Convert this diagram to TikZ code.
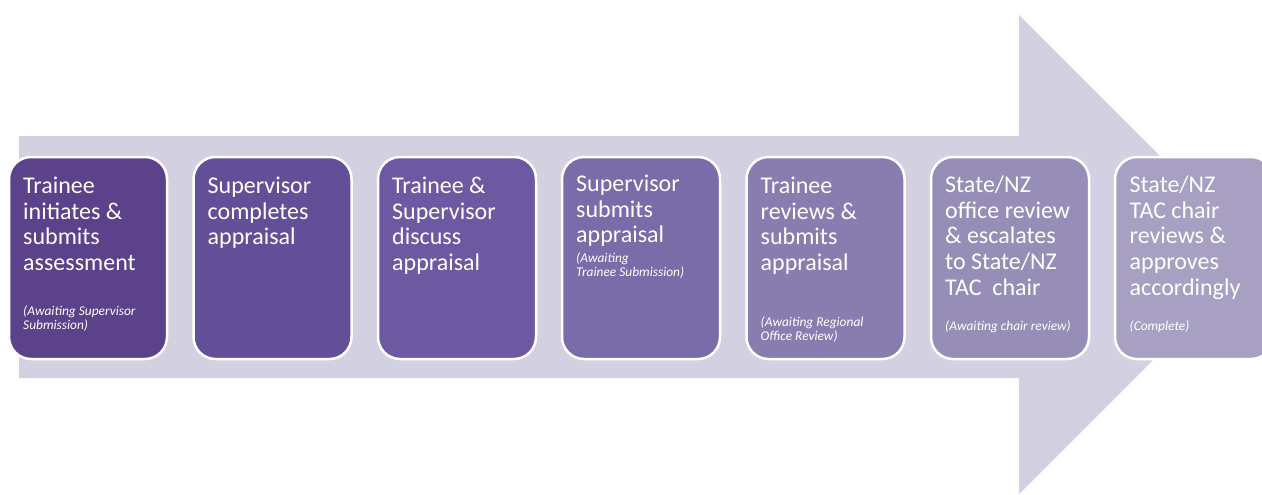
\documentclass[tikz,border=0pt]{standalone}
\usepackage{fontspec}
\setmainfont{Carlito}
\definecolor{arrowfill}{RGB}{210,208,225}
\definecolor{stepA}{RGB}{91,66,138}
\definecolor{stepB}{RGB}{99,79,151}
\definecolor{stepC}{RGB}{108,89,162}
\definecolor{stepD}{RGB}{122,107,169}
\definecolor{stepE}{RGB}{137,125,176}
\definecolor{stepF}{RGB}{151,142,183}
\definecolor{stepG}{RGB}{167,160,194}
\tikzset{
  stepbox/.style={draw=white, line width=2.5pt, rounded corners=22pt,
    minimum width=158pt, minimum height=202pt, inner sep=0pt},
  steptext/.style={anchor=north west, inner sep=0pt, align=left, text=white,
    font={\fontsize{24}{25.8}\selectfont}},
  statustext/.style={anchor=north west, inner sep=0pt, align=left, text=white,
    font={\fontsize{13.4}{13.8}\selectfont\itshape}},
}
\newcommand{\firstline}{\rule{0pt}{20pt}}
\newcommand{\firstsmall}{\rule{0pt}{11pt}}
\begin{document}
\begin{tikzpicture}[x=1pt,y=-1pt]
  \useasboundingbox (0,0) rectangle (1262,495);
  \clip (0,0) rectangle (1262,495);
  % the big background arrow
  \fill[arrowfill] (19,136) -- (1019,136) -- (1019,15) -- (1258.5,254.5)
    -- (1019,494) -- (1019,378) -- (19,378) -- cycle;
  % step boxes
  \node[stepbox, fill=stepA] (b1) at (88,258) {};
  \node[stepbox, fill=stepB] (b2) at (272.5,258) {};
  \node[stepbox, fill=stepC] (b3) at (457,258) {};
  \node[stepbox, fill=stepD] (b4) at (641,258) {};
  \node[stepbox, fill=stepE] (b5) at (825.5,258) {};
  \node[stepbox, fill=stepF] (b6) at (1010,258) {};
  \node[stepbox, fill=stepG] (b7) at (1194,258) {};
  % step descriptions
  \node[steptext] (t1) at (23,173) {\firstline Trainee\\initiates \&\\submits\\assessment};
  \node[steptext] (t2) at (207.5,173) {\firstline Supervisor\\completes\\appraisal};
  \node[steptext] (t3) at (392,173) {\firstline Trainee \&\\Supervisor\\discuss\\appraisal};
  \node[steptext] (t4) at (576,171) {\firstline Supervisor\\submits\\appraisal};
  \node[steptext] (t5) at (760.5,173) {\firstline Trainee\\reviews \&\\submits\\appraisal};
  \node[steptext] (t6) at (945,172) {\firstline State/NZ\\office review\\\& escalates\\to State/NZ\\TAC\ \ chair};
  \node[steptext] (t7) at (1129.5,172) {\firstline State/NZ\\TAC chair\\reviews \&\\approves\\accordingly};
  % status notes
  \node[statustext] (s1) at (23,304) {\firstsmall(Awaiting Supervisor\\Submission)};
  \node[statustext] (s4) at (576,251) {\firstsmall(Awaiting\\Trainee Submission)};
  \node[statustext] (s5) at (760.5,315) {\firstsmall(Awaiting Regional\\Office Review)};
  \node[statustext] (s6) at (945,319) {\firstsmall(Awaiting chair review)};
  \node[statustext] (s7) at (1129.5,319) {\firstsmall(Complete)};
\end{tikzpicture}
\end{document}
